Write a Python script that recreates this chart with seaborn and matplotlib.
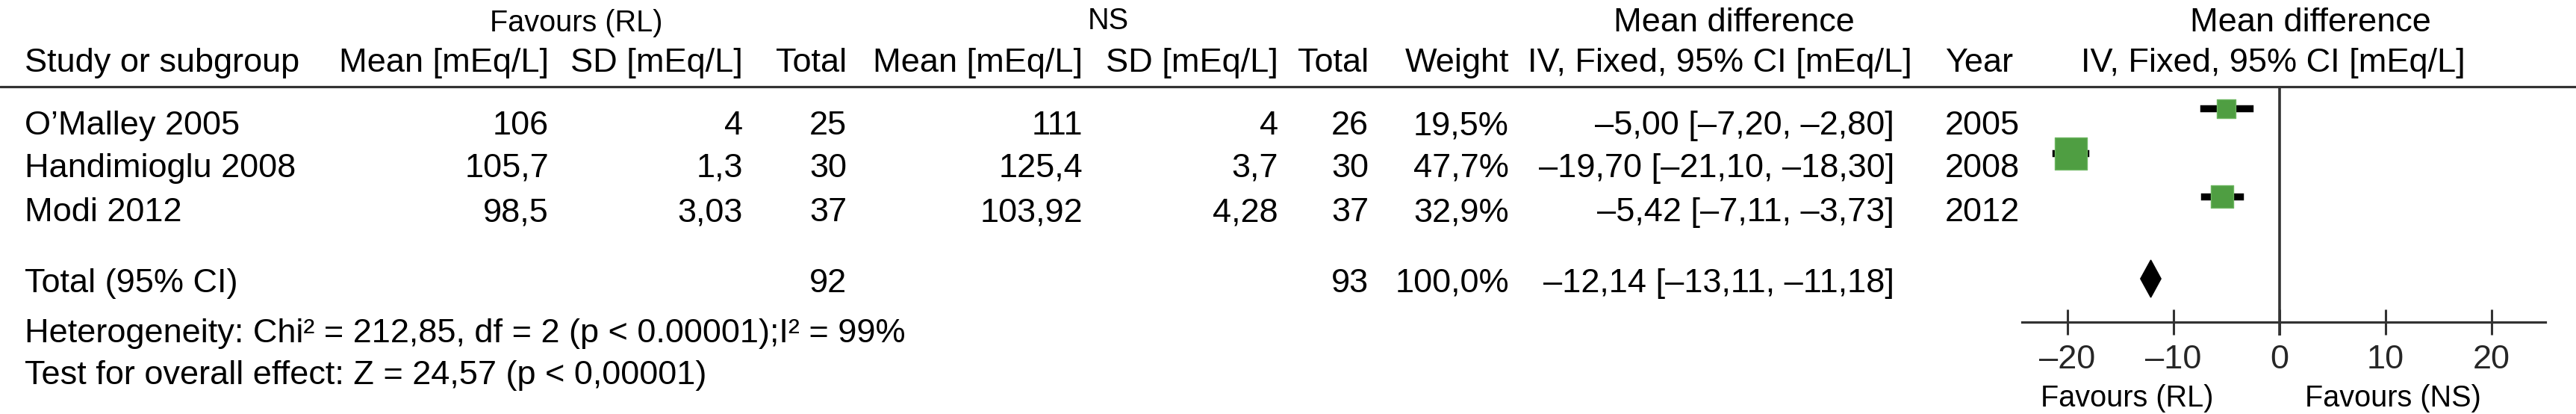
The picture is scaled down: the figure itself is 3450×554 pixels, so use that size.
import matplotlib
matplotlib.use("Agg")
import matplotlib.pyplot as plt
import seaborn as sns
import pandas as pd

# values
studies = ["O\u2019Malley 2005", "Handimioglu 2008", "Modi 2012"]
years = [2005, 2008, 2012]
rl_mean = [106, 105.7, 98.5]
rl_sd = [4, 1.3, 3.03]
rl_n = [25, 30, 37]
ns_mean = [111, 125.4, 103.92]
ns_sd = [4, 3.7, 4.28]
ns_n = [26, 30, 37]
weights = [19.5, 47.7, 32.9]
md = [-5.00, -19.70, -5.42]
md_lo = [-7.20, -21.10, -7.11]
md_hi = [-2.80, -18.30, -3.73]
total_rl_n = 92
total_ns_n = 93
total_weight = 100.0
pooled = -12.14
pooled_lo = -13.11
pooled_hi = -11.18
het_text = "Heterogeneity: Chi\u00b2 = 212,85, df = 2 (p < 0.00001);I\u00b2 = 99%"
test_text = "Test for overall effect: Z = 24,57 (p < 0,00001)"
x_ticks = [-20, -10, 0, 10, 20]

DASH = "\u2013"


def num(v):
    return f"{v:g}".replace(".", ",").replace("-", DASH)


def fix(v, d=2):
    return f"{v:.{d}f}".replace(".", ",").replace("-", DASH)


def ci_text(m, lo, hi):
    return f"{fix(m)} [{fix(lo)}, {fix(hi)}]"


sns.set_theme(style="white")
plt.rcParams["font.family"] = ["Liberation Sans", "DejaVu Sans"]

W, H = 3450, 554
fig = plt.figure(figsize=(W / 100, H / 100), dpi=100)
fig.patch.set_facecolor("white")

# text layer in pixel units
ax = fig.add_axes([0, 0, 1, 1])
ax.set_xlim(0, W)
ax.set_ylim(H, 0)
ax.axis("off")

FS = 32.5
FS_SMALL = 28.5
LINE = "#333333"

# layout (pixels)
row_base = [180, 237, 296]
total_base = 391
hdr1_base = 42
hdr2_base = 96

# column right edges
c_mean1, c_sd1, c_n1 = 735, 995, 1134
c_mean2, c_sd2, c_n2 = 1450, 1712, 1833
c_w, c_ci = 2021, 2537

def t(x, y, s, ha="right", fs=FS):
    ax.text(x, y, s, ha=ha, va="baseline", fontsize=fs, color="black")

# header line 1
t(772, hdr1_base, "Favours (RL)", ha="center", fs=FS_SMALL)
t(1484, hdr1_base - 3, "NS", ha="center", fs=FS_SMALL)
t(2322, hdr1_base, "Mean difference", ha="center")
t(3094, hdr1_base, "Mean difference", ha="center")

# header line 2
t(33, hdr2_base, "Study or subgroup", ha="left")
t(c_mean1, hdr2_base, "Mean [mEq/L]")
t(c_sd1, hdr2_base, "SD [mEq/L]")
t(c_n1, hdr2_base, "Total")
t(c_mean2, hdr2_base, "Mean [mEq/L]")
t(c_sd2, hdr2_base, "SD [mEq/L]")
t(c_n2, hdr2_base, "Total")
t(c_w, hdr2_base, "Weight")
t(2303, hdr2_base, "IV, Fixed, 95% CI [mEq/L]", ha="center")
t(2605, hdr2_base, "Year", ha="left")
t(3044, hdr2_base, "IV, Fixed, 95% CI [mEq/L]", ha="center")

ax.axhline(116, color=LINE, lw=2.3)

# study rows
for i, y in enumerate(row_base):
    t(33, y, studies[i], ha="left")
    t(c_mean1, y, num(rl_mean[i]))
    t(c_sd1, y, num(rl_sd[i]))
    t(c_n1, y, str(rl_n[i]))
    t(c_mean2, y, num(ns_mean[i]))
    t(c_sd2, y, num(ns_sd[i]))
    t(c_n2, y, str(ns_n[i]))
    t(c_w, y, fix(weights[i], 1) + "%")
    t(c_ci, y, ci_text(md[i], md_lo[i], md_hi[i]))
    t(2605, y, str(years[i]), ha="left")

# total row
t(33, total_base, "Total (95% CI)", ha="left")
t(c_n1, total_base, str(total_rl_n))
t(c_n2, total_base, str(total_ns_n))
t(c_w, total_base, fix(total_weight, 1) + "%")
t(c_ci, total_base, ci_text(pooled, pooled_lo, pooled_hi))
t(33, 458, het_text, ha="left")
t(33, 514, test_text, ha="left")

# forest panel: x in mean difference units
x0, x1 = -24.3, 25.1
px_left, px_right = 2708, 3409
fx = fig.add_axes([px_left / W, 0, (px_right - px_left) / W, 1])
fx.set_facecolor("none")
fx.set_xlim(x0, x1)
fx.set_ylim(H, 0)
for side in ["left", "right", "top"]:
    fx.spines[side].set_visible(False)
fx.spines["bottom"].set_position(("data", 431))
fx.spines["bottom"].set_color(LINE)
fx.spines["bottom"].set_linewidth(2.3)
fx.set_yticks([])
fx.set_xticks(x_ticks)
fx.set_xticklabels([num(v) for v in x_ticks])
fx.tick_params(axis="x", direction="inout", length=25, width=2.2, color=LINE,
               labelsize=FS, pad=9, bottom=True)
fx.grid(False)

mark_y = [145, 205, 263]
pool_y, pool_h = 373, 25
side_px = [25, 43, 30]

fx.vlines(0, 116, 449, color=LINE, lw=2.6)

for lo, hi, y in zip(md_lo, md_hi, mark_y):
    fx.plot([lo, hi], [y, y], color="black", lw=6.8, solid_capstyle="projecting", zorder=3)

sq = pd.DataFrame({"md": md, "y": mark_y})
sns.scatterplot(data=sq, x="md", y="y", marker="s", s=[(p * 0.72) ** 2 for p in side_px],
                color="#4f9e42", edgecolor="#6cb660", linewidth=1, zorder=4, ax=fx, legend=False)

fx.fill([pooled_lo, pooled, pooled_hi, pooled],
        [pool_y, pool_y - pool_h, pool_y, pool_y + pool_h], color="black", zorder=4)
fx.set_xlabel("")
fx.set_ylabel("")

t(2849, 544, "Favours (RL)", ha="center", fs=FS_SMALL)
t(3205, 544, "Favours (NS)", ha="center", fs=FS_SMALL)

fig.savefig("out.png", dpi=100)
